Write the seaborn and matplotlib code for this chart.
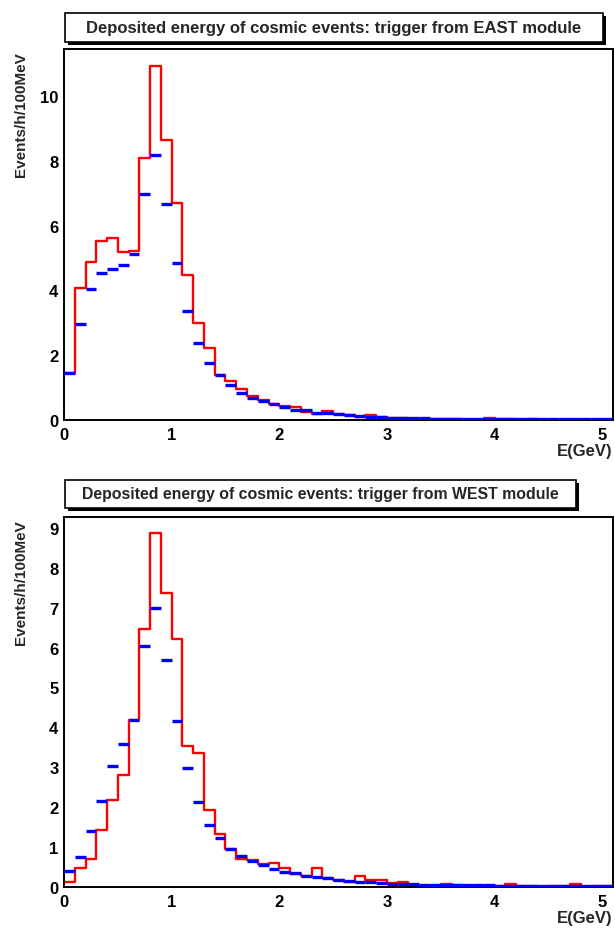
import matplotlib
matplotlib.use("Agg")
import matplotlib.pyplot as plt
from matplotlib.patches import Rectangle
from matplotlib.ticker import MultipleLocator
import seaborn as sns
import pandas as pd

# 100 MeV bins from 0 to 5.1 GeV
bin_edges = [round(0.1 * i, 2) for i in range(52)]
bin_centers = [round(0.1 * i + 0.05, 3) for i in range(51)]

# EAST trigger (top panel)
east_red = [1.45, 4.07, 4.87, 5.51, 5.61, 5.17, 5.21, 8.08, 10.92, 8.63,
            6.70, 4.47, 3.00, 2.22, 1.39, 1.21, 0.97, 0.73, 0.63, 0.49,
            0.42, 0.40, 0.24, 0.20, 0.27, 0.17, 0.15, 0.09, 0.14, 0.08,
            0.05, 0.06, 0.01, 0.00, 0.03, 0.03, 0.02, 0.00, 0.01, 0.05,
            0.02, 0.02, 0.01, 0.02, 0.01, 0.01, 0.00, 0.01, 0.00, 0.01, 0.00]
east_blue = [1.44, 2.97, 4.05, 4.53, 4.67, 4.79, 5.13, 6.97, 8.19, 6.66,
             4.86, 3.37, 2.39, 1.75, 1.39, 1.08, 0.83, 0.69, 0.60, 0.49,
             0.40, 0.32, 0.31, 0.22, 0.21, 0.17, 0.16, 0.11, 0.10, 0.08,
             0.07, 0.06, 0.06, 0.05, 0.04, 0.04, 0.04, 0.03, 0.03, 0.03,
             0.03, 0.03, 0.02, 0.02, 0.02, 0.02, 0.02, 0.02, 0.02, 0.02, 0.02]

# WEST trigger (bottom panel)
west_red = [0.13, 0.48, 0.70, 1.44, 2.19, 2.81, 4.19, 6.46, 8.87, 7.36,
            6.22, 3.53, 3.35, 1.92, 1.33, 0.95, 0.71, 0.68, 0.57, 0.60,
            0.47, 0.33, 0.28, 0.47, 0.22, 0.18, 0.13, 0.27, 0.17, 0.18,
            0.10, 0.12, 0.02, 0.03, 0.02, 0.07, 0.05, 0.03, 0.00, 0.02,
            0.03, 0.08, 0.03, 0.02, 0.01, 0.02, 0.03, 0.08, 0.01, 0.03, 0.03]
west_blue = [0.41, 0.76, 1.41, 2.15, 3.04, 3.58, 4.19, 6.05, 6.98, 5.68,
             4.15, 2.98, 2.12, 1.55, 1.22, 0.95, 0.77, 0.65, 0.55, 0.45,
             0.38, 0.35, 0.28, 0.25, 0.22, 0.18, 0.15, 0.13, 0.12, 0.10,
             0.08, 0.08, 0.07, 0.06, 0.06, 0.06, 0.05, 0.04, 0.04, 0.04,
             0.03, 0.03, 0.03, 0.03, 0.02, 0.02, 0.02, 0.02, 0.02, 0.02, 0.02]

titles = ["Deposited energy of cosmic events: trigger from EAST module",
          "Deposited energy of cosmic events: trigger from WEST module"]

sns.set_style("white")
plt.rcParams['font.family'] = ['Liberation Sans', 'DejaVu Sans']
plt.rcParams['font.weight'] = 'bold'

W, H = 615, 929
fig = plt.figure(figsize=(W / 100, H / 100), dpi=100)


def px_box(x0, y0, x1, y1):
    # image pixel box -> figure fraction [left, bottom, width, height]
    return [x0 / W, 1 - y1 / H, (x1 - x0) / W, (y1 - y0) / H]


def title_box(text, x0, y0, x1, y1, size):
    l, b, w, h = px_box(x0, y0, x1, y1)
    # ROOT-style pave with a drop shadow
    fig.add_artist(Rectangle((l + 3 / W, b - 3 / H), w, h, transform=fig.transFigure,
                             facecolor='black', edgecolor='black', lw=0))
    fig.add_artist(Rectangle((l, b), w, h, transform=fig.transFigure,
                             facecolor='white', edgecolor='black', lw=1.2))
    fig.text(l + w / 2, b + h / 2, text, ha='center', va='center',
             fontsize=size, fontweight='bold')


def draw_panel(ax, red, blue, ymax, major, minor):
    df = pd.DataFrame({'E': bin_centers, 'red': red, 'blue': blue})
    sns.histplot(data=df, x='E', weights='red', bins=bin_edges, element='step',
                 fill=False, color='red', lw=1.7, ax=ax)
    ax.errorbar(df['E'], df['blue'], xerr=0.05, fmt='none', ecolor='blue',
                elinewidth=2.4, capsize=0, zorder=3)
    ax.set_xlim(0, 5.1)
    ax.set_ylim(0, ymax)
    ax.xaxis.set_major_locator(MultipleLocator(1))
    ax.xaxis.set_minor_locator(MultipleLocator(0.2))
    ax.yaxis.set_major_locator(MultipleLocator(major))
    ax.yaxis.set_minor_locator(MultipleLocator(minor))
    ax.tick_params(which='both', direction='in', top=False, right=False,
                   labelsize=12, width=1, colors='black')
    ax.tick_params(axis='y', which='major', length=12, pad=4)
    ax.tick_params(axis='y', which='minor', length=6)
    ax.tick_params(axis='x', which='major', length=8, pad=5)
    ax.tick_params(axis='x', which='minor', length=4)
    for lab in ax.get_xticklabels() + ax.get_yticklabels():
        lab.set_fontweight('bold')
    for s in ax.spines.values():
        s.set_visible(True)
        s.set_color('black')
        s.set_linewidth(1.4)
    ax.set_ylabel('Events/h/100MeV', fontsize=11, fontweight='bold', loc='top')
    ax.yaxis.set_label_coords(-0.065, 0.995)
    ax.set_xlabel('E(GeV)', fontsize=12, fontweight='bold', loc='right')
    ax.xaxis.set_label_coords(1.0, -0.063)


ax1 = fig.add_axes(px_box(64, 50, 613, 421))
draw_panel(ax1, east_red, east_blue, 11.45, 2, 0.5)
ax2 = fig.add_axes(px_box(64, 518, 613, 888))
draw_panel(ax2, west_red, west_blue, 9.27, 1, 0.2)

title_box(titles[0], 65, 14, 603, 43, 12)
title_box(titles[1], 65, 481, 576, 509, 11.4)

fig.savefig("out.png", dpi=100)
